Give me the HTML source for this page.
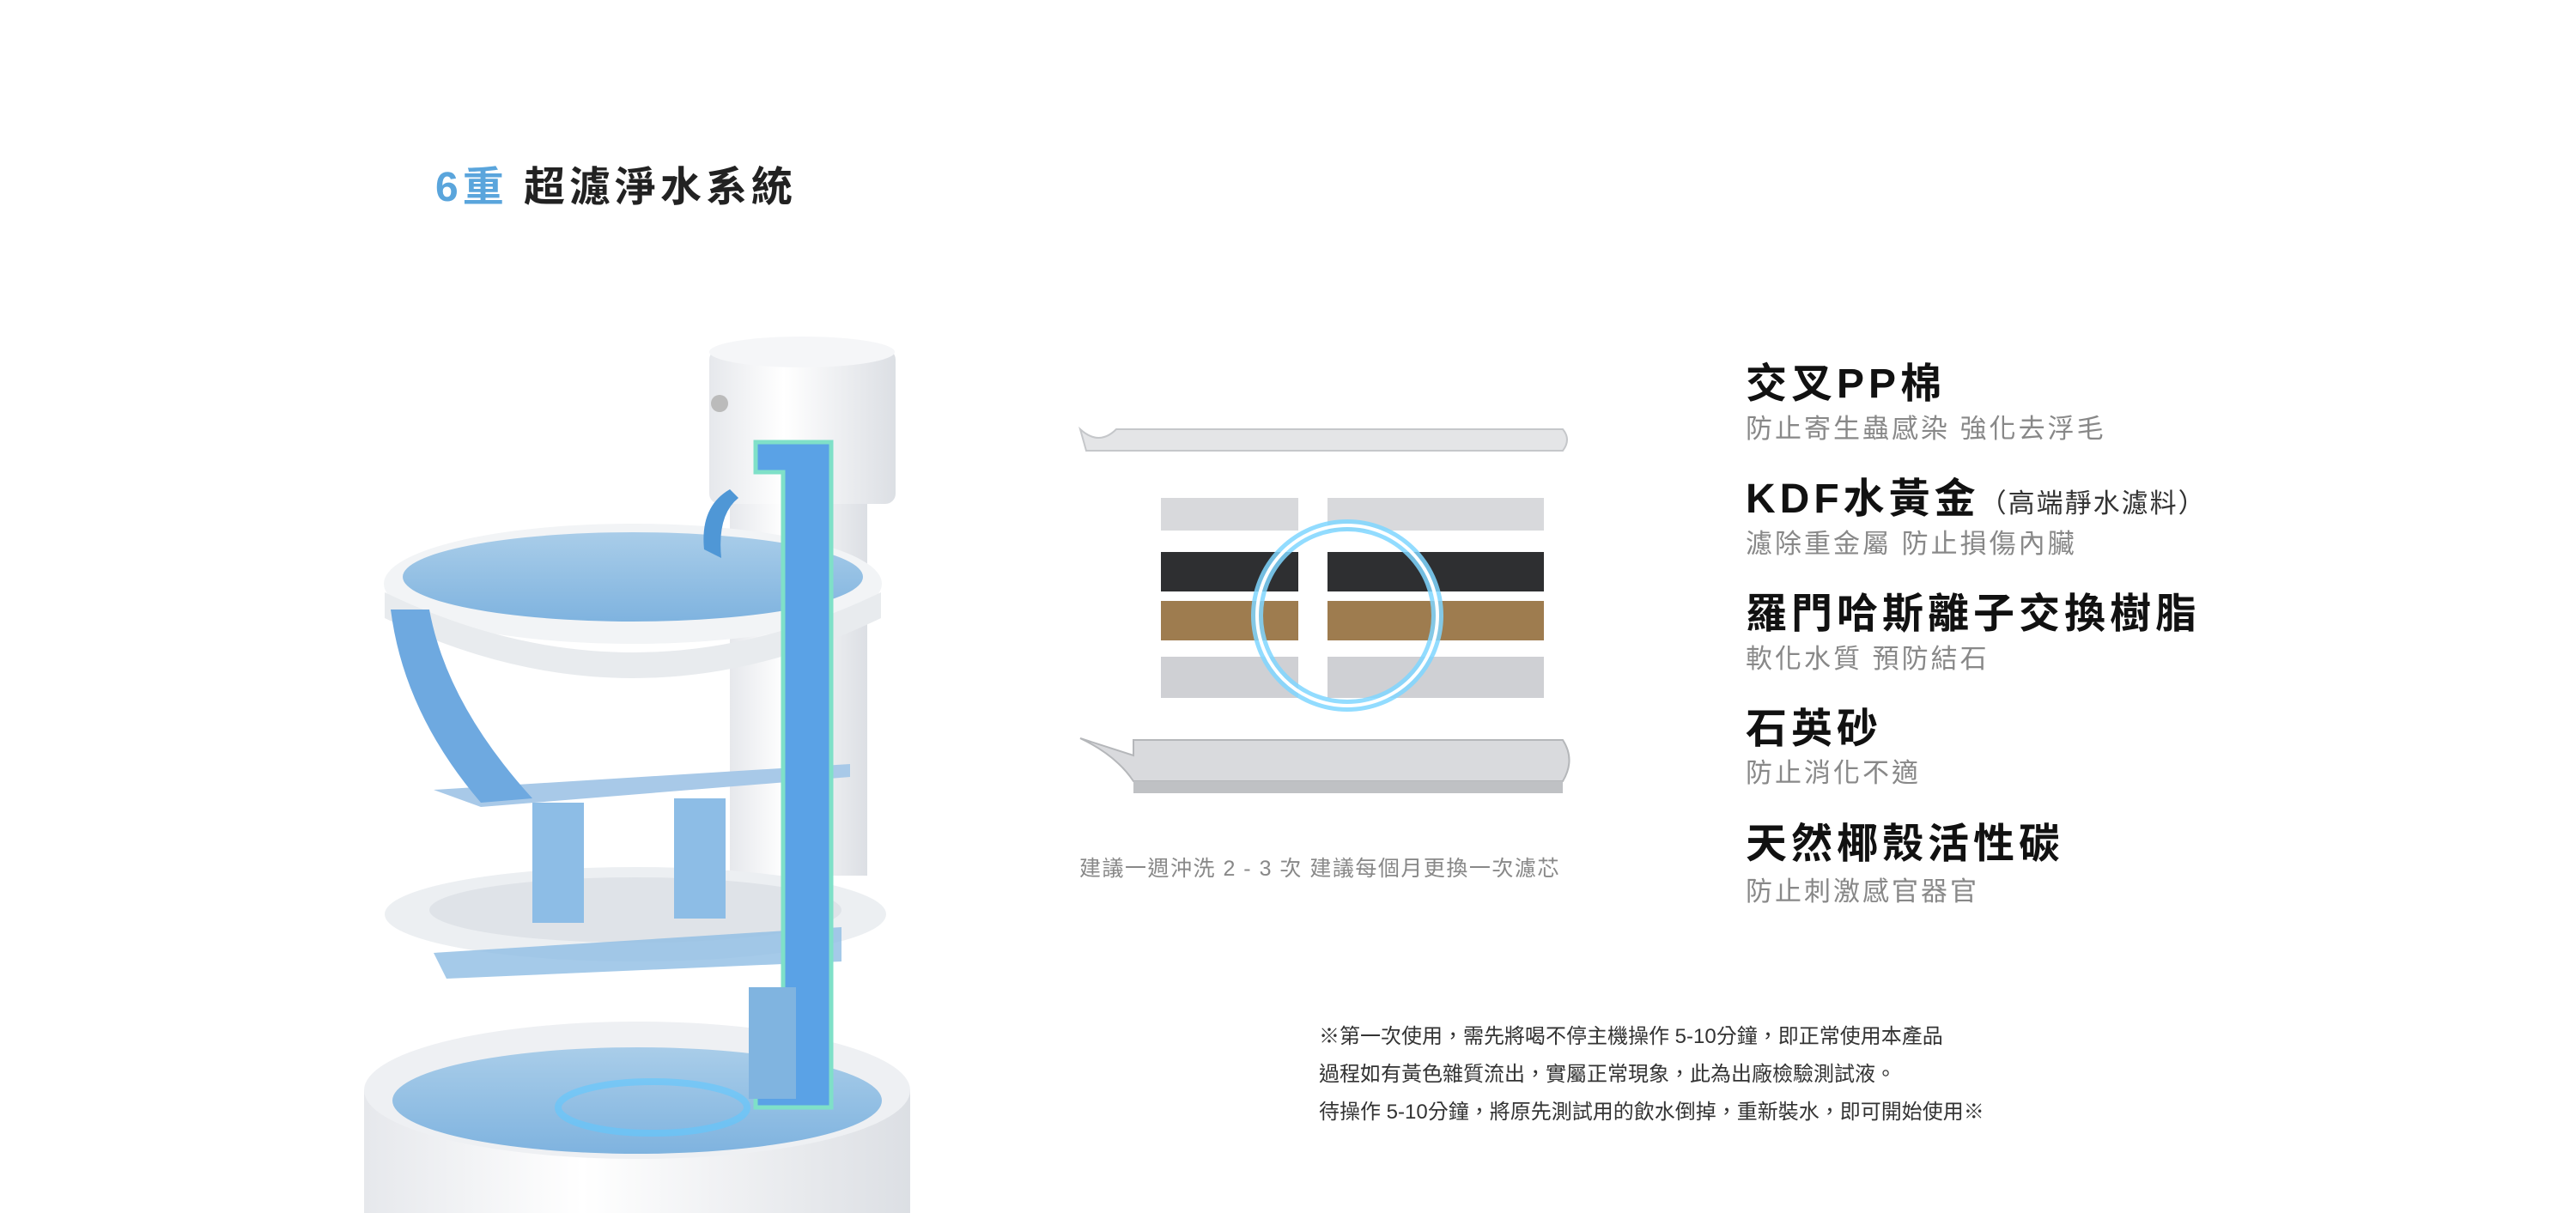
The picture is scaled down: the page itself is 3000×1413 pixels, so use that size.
<!DOCTYPE html>
<html><head><meta charset="utf-8"><style>
html,body{margin:0;padding:0;background:#fff;}
body{width:3000px;height:1413px;position:relative;overflow:hidden;font-family:"Liberation Sans","Noto Sans CJK TC",sans-serif;}
.t{position:absolute;white-space:nowrap;}
.h{font-size:48px;font-weight:bold;color:#111;letter-spacing:5px;}
.s{font-size:31px;color:#888;letter-spacing:3px;}
.n{font-size:24px;color:#333;}
</style></head><body>
<div class="t" style="left:507px;top:178px;font-size:48px;font-weight:bold;letter-spacing:5px;"><span style="color:#5aa5dc">6重</span> <span style="color:#222">超濾淨水系統</span></div>

<svg style="position:absolute;left:0;top:0" width="3000" height="1413">
<defs>
<linearGradient id="w" x1="0" x2="1"><stop offset="0" stop-color="#e6e8ec"/><stop offset=".4" stop-color="#fff"/><stop offset="1" stop-color="#dcdfe4"/></linearGradient>
<linearGradient id="bl" x1="0" x2="0" y1="0" y2="1"><stop offset="0" stop-color="#a9cde9"/><stop offset="1" stop-color="#7fb3df"/></linearGradient>
</defs>
<rect x="424" y="1270" width="636" height="150" fill="url(#w)"/>
<ellipse cx="742" cy="1270" rx="318" ry="80" fill="#eef0f3"/>
<ellipse cx="742" cy="1282" rx="285" ry="62" fill="url(#bl)"/>
<ellipse cx="760" cy="1290" rx="110" ry="30" fill="none" stroke="#5fc8ff" stroke-width="8" opacity=".6"/>
<rect x="850" y="560" width="160" height="460" fill="url(#w)"/>
<rect x="826" y="407" width="217" height="180" rx="12" fill="url(#w)"/>
<ellipse cx="934" cy="410" rx="108" ry="18" fill="#f5f6f8"/>
<circle cx="838" cy="470" r="10" fill="#bbb"/>
<ellipse cx="740" cy="1065" rx="292" ry="55" fill="#eceff2"/>
<ellipse cx="740" cy="1060" rx="240" ry="38" fill="#dfe3e8"/>
<path d="M505 1110 L980 1080 L980 1120 L520 1140Z" fill="#8fbde4" opacity=".8"/>
<path d="M505 920 L990 890 L990 905 L560 940Z" fill="#a8c9e8"/>
<rect x="620" y="935" width="60" height="140" fill="#8dbde6"/>
<rect x="785" y="930" width="60" height="140" fill="#8dbde6"/>
<ellipse cx="737" cy="680" rx="290" ry="70" fill="#f2f4f6"/>
<ellipse cx="737" cy="672" rx="268" ry="52" fill="url(#bl)"/>
<path d="M448 690 Q737 830 1026 690 L1026 720 Q737 860 448 720Z" fill="#e8ebee"/>
<path d="M455 710 L500 710 Q520 820 620 930 L560 935 Q470 830 455 710Z" fill="#6ea9e0"/>
<path d="M820 640 Q815 590 850 570 L860 580 Q835 600 840 650Z" fill="#4f97d6"/>
<path d="M880 515 L968 515 L968 1290 L880 1290 L880 1220 L912 1220 L912 550 L880 550Z" fill="#5aa2e6" stroke="#7fe0c8" stroke-width="5"/>
<rect x="872" y="1150" width="55" height="130" fill="#80b4e0"/>

<path d="M1258 500 Q1280 520 1300 500 L1820 500 Q1830 512 1820 525 L1265 525Z" fill="#e4e5e7" stroke="#c5c7ca" stroke-width="2"/>
<rect x="1352" y="580" width="160" height="38" fill="#d8d9dc"/><rect x="1546" y="580" width="252" height="38" fill="#d8d9dc"/>
<rect x="1352" y="643" width="160" height="46" fill="#2e2f31"/><rect x="1546" y="643" width="252" height="46" fill="#2e2f31"/>
<rect x="1352" y="700" width="160" height="46" fill="#9e7c4f"/><rect x="1546" y="700" width="252" height="46" fill="#9e7c4f"/>
<rect x="1352" y="765" width="160" height="48" fill="#cfd0d4"/><rect x="1546" y="765" width="252" height="48" fill="#cfd0d4"/>
<path d="M1258 860 Q1300 880 1320 910 L1820 910 Q1835 885 1820 862 L1320 862 L1320 880Z" fill="#d9dadd" stroke="#b5b7ba" stroke-width="2"/>
<rect x="1320" y="910" width="500" height="14" fill="#bfc1c4"/>
<circle cx="1569" cy="717" r="105" fill="none" stroke="#7fd6ff" stroke-width="14" opacity=".85"/>
<circle cx="1569" cy="717" r="105" fill="none" stroke="#fff" stroke-width="4"/>
</svg>

<div class="t h" style="left:2033px;top:407px;">交叉PP棉</div>
<div class="t s" style="left:2033px;top:474px;">防止寄生蟲感染 強化去浮毛</div>
<div class="t h" style="left:2033px;top:541px;">KDF水黃金<span style="font-size:31px;font-weight:normal;color:#333;letter-spacing:2px">（高端靜水濾料）</span></div>
<div class="t s" style="left:2033px;top:608px;">濾除重金屬 防止損傷內臟</div>
<div class="t h" style="left:2033px;top:675px;">羅門哈斯離子交換樹脂</div>
<div class="t s" style="left:2033px;top:742px;">軟化水質 預防結石</div>
<div class="t h" style="left:2033px;top:809px;">石英砂</div>
<div class="t s" style="left:2033px;top:875px;">防止消化不適</div>
<div class="t h" style="left:2033px;top:943px;">天然椰殼活性碳</div>
<div class="t s" style="left:2033px;top:1013px;">防止刺激感官器官</div>

<div class="t" style="left:1257px;top:992px;font-size:25px;color:#888;letter-spacing:1.5px;">建議一週沖洗 2 - 3 次 建議每個月更換一次濾芯</div>

<div class="t n" style="left:1536px;top:1187px;">※第一次使用，需先將喝不停主機操作 5-10分鐘，即正常使用本產品</div>
<div class="t n" style="left:1536px;top:1231px;">過程如有黃色雜質流出，實屬正常現象，此為出廠檢驗測試液。</div>
<div class="t n" style="left:1536px;top:1275px;">待操作 5-10分鐘，將原先測試用的飲水倒掉，重新裝水，即可開始使用※</div>
</body></html>
